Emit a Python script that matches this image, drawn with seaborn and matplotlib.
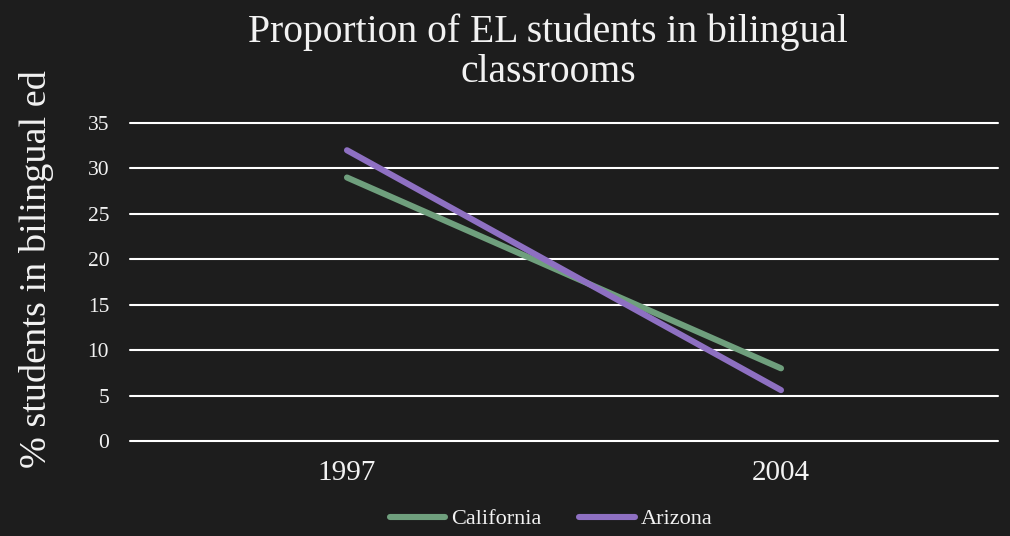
import matplotlib
matplotlib.use("Agg")
import matplotlib.pyplot as plt
import seaborn as sns
import pandas as pd

# Share of English-learner students taught in bilingual classrooms
years = ["1997", "2004"]
california = [29, 8]
arizona = [32, 5.6]
states = ["California", "Arizona"]
colors = {"California": "#6f9f7d", "Arizona": "#8e70c2"}
yticks = [0, 5, 10, 15, 20, 25, 30, 35]

df = pd.DataFrame({
    "Year": years * 2,
    "Percent": california + arizona,
    "State": [states[0]] * len(years) + [states[1]] * len(years),
})

sns.set_theme(style="dark")
plt.rcParams["font.family"] = ["Liberation Serif", "DejaVu Serif"]

bg = "#1d1d1d"
fg = "#f2f2f2"

fig = plt.figure(figsize=(10.1, 5.36), dpi=100, facecolor=bg)
ax = fig.add_axes([130 / 1010, 1 - 441 / 536, 868 / 1010, 318 / 536])
ax.set_facecolor(bg)

sns.lineplot(data=df, x="Year", y="Percent", hue="State", hue_order=states,
             palette=colors, linewidth=4.4, ax=ax, sort=False,
             solid_capstyle="round", zorder=3)

ax.set_xlim(-0.5, 1.5)
ax.set_ylim(0, 35)
ax.set_yticks(yticks)
ax.set_yticklabels([str(t) for t in yticks])
ax.grid(axis="y", color="white", linewidth=1.5)
ax.grid(axis="x", visible=False)
for gl in ax.yaxis.get_gridlines():
    gl.set_clip_on(False)
for s in ax.spines.values():
    s.set_visible(False)

ax.tick_params(axis="y", length=0, pad=15, labelsize=15.5, labelcolor=fg)
ax.tick_params(axis="x", length=0, pad=14, labelsize=21, labelcolor=fg)
ax.set_xlabel("")
ax.set_ylabel("")

fig.text(37 / 1010, 1 - 269 / 536, "% students in bilingual ed", rotation=90,
         ha="center", va="center", fontsize=27.5, color=fg)
fig.text(548 / 1010, 1 - 13 / 536, "Proportion of EL students in bilingual\nclassrooms",
         ha="center", va="top", fontsize=28.5, color=fg, linespacing=1.13)

leg = ax.legend(loc="center", bbox_to_anchor=(551 / 1010, 1 - 519 / 536),
                bbox_transform=fig.transFigure, ncol=2, frameon=False,
                fontsize=16, handlelength=2.5, handletextpad=0.25,
                columnspacing=1.7, labelcolor=fg)
for line in leg.get_lines():
    line.set_linewidth(4.4)
    line.set_solid_capstyle("round")

fig.savefig("out.png", dpi=100, facecolor=bg)
